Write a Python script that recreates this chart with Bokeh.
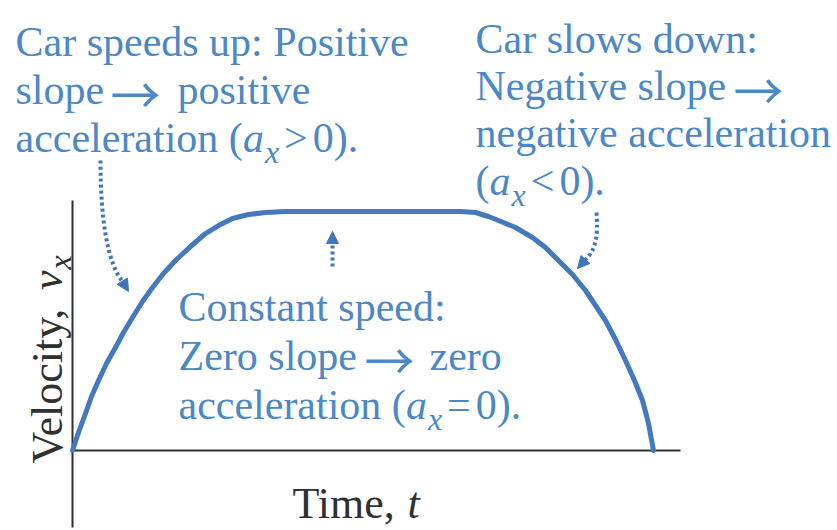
from bokeh.plotting import figure
from bokeh.models import Range1d, Label, Arrow, NormalHead
from bokeh.embed import file_html
from bokeh.resources import INLINE
import math

# Velocity-time curve of a car: speeds up, cruises, then slows to a stop
time = [0.0, 0.103, 0.224, 0.327, 0.448, 0.585, 0.74, 0.878, 1.033, 1.205,
        1.377, 1.566, 1.773, 2.031, 2.289, 2.513, 2.754, 3.029, 3.322, 3.666,
        6.678, 6.936, 7.16, 7.332, 7.625, 7.917, 8.141, 8.365, 8.606, 8.83,
        9.002, 9.174, 9.346, 9.518, 9.673, 9.811, 9.914, 10.0]
velocity = [0.0, 0.753, 1.548, 2.259, 2.929, 3.64, 4.31, 4.937, 5.565, 6.234,
            6.82, 7.406, 7.95, 8.536, 9.079, 9.414, 9.707, 9.874, 9.958, 10.0,
            10.0, 9.958, 9.791, 9.623, 9.331, 8.912, 8.494, 7.95, 7.364, 6.695,
            6.067, 5.439, 4.644, 3.766, 2.929, 2.092, 1.13, 0.0]

left_note = ["Car speeds up: Positive", "slope", "\u2192", "positive", "acceleration ("]
right_note = ["Car slows down:", "Negative slope", "\u2192", "negative acceleration", "("]
middle_note = ["Constant speed:", "Zero slope", "\u2192", "zero", "acceleration ("]
x_label = ["Time, ", "t"]
y_label = ["Velocity, ", "v", "x"]

W, H = 837, 530
OX, OY = 72, 450          # pixel position of the origin
T_PX, V_PX = 58.1, 23.9   # pixels per unit of time / velocity

BLUE_TEXT = "#4c88c5"
BLUE_LINE = "#4579bd"
BLUE_DOTS = "#4075b8"
INK = "#303030"
FONT = "Liberation Serif"
ARROW_FONT = "Noto Sans CJK JP"
FS = 42
SUB = 32
AFS = 50


def sx(px):
    return (px - OX) / T_PX


def sy(py):
    return (OY - py) / V_PX


# Times / Liberation Serif advance widths (1/1000 em)
REG = {' ': 250, '(': 333, ')': 333, '.': 250, '0': 500, '>': 564, '<': 564,
       '=': 564, 'a': 444, 'c': 444, 'e': 444, 'l': 278, 'r': 333, 't': 278,
       'i': 278, 'o': 500, 'n': 500, 'T': 611, 'm': 778, ',': 250, 'V': 722,
       'y': 500}
ITAL = {'a': 500, 'x': 444, 't': 278, 'v': 444}


def width(s, size, table=REG):
    return sum(table.get(c, 500) for c in s) * size / 1000.0


p = figure(width=W, height=H, output_backend="svg", toolbar_location=None,
           x_range=Range1d(sx(0), sx(W)), y_range=Range1d(sy(H), sy(0)),
           min_border=0, x_axis_location=None, y_axis_location=None)
p.grid.visible = False
p.outline_line_color = None
p.background_fill_color = "white"
p.border_fill_color = "white"

# axes drawn as plain lines
p.line([0, 0], [sy(527), sy(200)], line_color=INK, line_width=2)
p.line([0, sx(680)], [0, 0], line_color=INK, line_width=2)

# the curve
p.line(time, velocity, line_color=BLUE_LINE, line_width=5,
       line_join="round", line_cap="round")


def label(px, py, text, size=FS, color=BLUE_TEXT, style="normal", angle=0.0, font=FONT):
    p.add_layout(Label(x=sx(px), y=sy(py), text=text, text_font=font,
                       text_font_size=f"{size}px", text_color=color,
                       text_font_style=style, text_baseline="alphabetic",
                       text_align="left", angle=angle))


def math_line(px, py, prefix, rel):
    """prefix, italic a with subscript x, relation and '0).'"""
    label(px, py, prefix)
    x = px + width(prefix, FS)
    label(x, py, "a", style="italic")
    x += width("a", FS, ITAL) + 1
    label(x, py + 14, "x", size=SUB, style="italic")
    x += width("x", SUB, ITAL) + 5
    label(x, py, rel)
    x += width(rel, FS) + 5
    label(x, py, "0).")


def arrow_line(px, py, before, arrow, after, ax, bx):
    label(px, py, before)
    label(ax, py + 2, arrow, size=AFS, font=ARROW_FONT)
    if after:
        label(bx, py, after)


# upper-left note
label(15, 41, left_note[0])
arrow_line(15, 89, left_note[1], left_note[2], left_note[3], 110, 177)
math_line(15, 137, left_note[4], ">")

# upper-right note
label(475, 38, right_note[0])
arrow_line(475, 85, right_note[1], right_note[2], None, 733, 0)
label(475, 132, right_note[3])
math_line(475, 180, right_note[4], "<")

# middle note
label(178, 306, middle_note[0])
arrow_line(178, 355, middle_note[1], middle_note[2], middle_note[3], 364, 429)
math_line(178, 404, middle_note[4], "=")

# axis titles
label(292, 503, x_label[0], size=44, color=INK)
label(292 + width(x_label[0], 44), 503, x_label[1], size=44, color=INK, style="italic")

vx, vy = 47, 463
label(vx, vy, y_label[0], size=44, color=INK, angle=math.pi / 2)
vy2 = vy - width(y_label[0], 44)
label(vx, vy2, y_label[1], size=44, color=INK, style="italic", angle=math.pi / 2)
vy3 = vy2 - width("v", 44, ITAL) - 1
label(vx + 12, vy3, y_label[2], size=SUB, color=INK, style="italic", angle=math.pi / 2)

# dotted pointers
DOT = dict(line_color=BLUE_DOTS, line_width=4, line_dash="3 3")
p.bezier(x0=[sx(100)], y0=[sy(160)], x1=[sx(122)], y1=[sy(281)],
         cx0=[sx(100)], cy0=[sy(220)], cx1=[sx(107)], cy1=[sy(262)], **DOT)
p.bezier(x0=[sx(596)], y0=[sy(212)], x1=[sx(585)], y1=[sy(259)],
         cx0=[sx(598)], cy0=[sy(235)], cx1=[sx(595)], cy1=[sy(250)], **DOT)
p.add_layout(Arrow(x_start=sx(332), y_start=sy(266), x_end=sx(332), y_end=sy(231),
                   line_color=BLUE_DOTS, line_width=4, line_dash="3 3",
                   end=NormalHead(size=12, fill_color=BLUE_DOTS, line_color=BLUE_DOTS)))


def head(x0, y0, x1, y1):
    p.add_layout(Arrow(x_start=sx(x0), y_start=sy(y0), x_end=sx(x1), y_end=sy(y1),
                       line_alpha=0,
                       end=NormalHead(size=12, fill_color=BLUE_DOTS, line_color=BLUE_DOTS)))


head(122, 281, 128, 291)
head(585, 259, 577, 268)

open("out.html", "w").write(file_html(p, INLINE))
